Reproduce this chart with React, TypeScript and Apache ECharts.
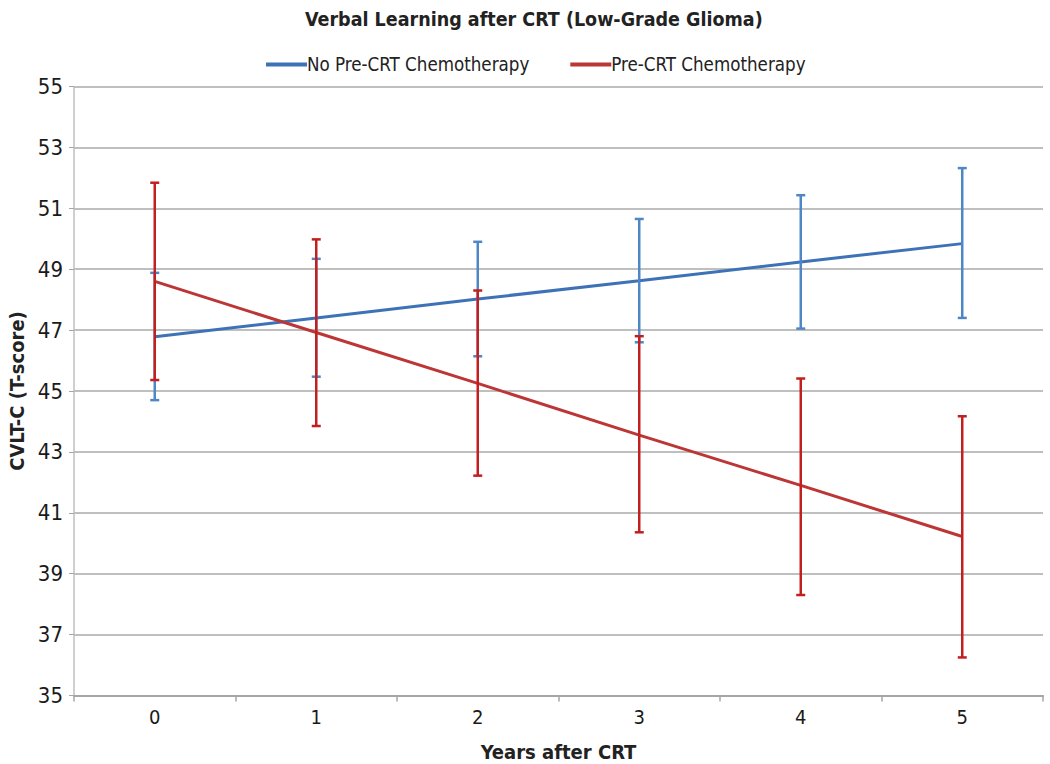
import React, { useEffect, useRef } from "react";
import * as echarts from "echarts";

const years = ["0", "1", "2", "3", "4", "5"];
const noChemoMean = [46.78, 47.4, 48.02, 48.62, 49.24, 49.84];
const noChemoLow = [44.7, 45.47, 46.14, 46.6, 47.05, 47.4];
const noChemoHigh = [48.88, 49.34, 49.9, 50.65, 51.43, 52.32];
const chemoMean = [48.6, 46.92, 45.25, 43.55, 41.9, 40.22];
const chemoLow = [45.36, 43.85, 42.22, 40.36, 38.3, 36.25];
const chemoHigh = [51.84, 49.98, 48.3, 46.8, 45.41, 44.17];
const seriesNames = ["No Pre-CRT Chemotherapy", "Pre-CRT Chemotherapy"];

const FONT = "'Liberation Sans Narrow', 'DejaVu Sans Condensed', sans-serif";
const BLUE = "#3E72B7";
const BLUE_ERR = "#4F86C6";
const RED = "#BC3636";
const RED_ERR = "#C21F1F";

function errorSeries(name: string, low: number[], high: number[], color: string, z: number) {
  return {
    type: "custom",
    name,
    z,
    data: years.map((_, i) => [i, low[i], high[i]]),
    encode: { x: 0, y: [1, 2] },
    renderItem: (params: any, api: any) => {
      const x = api.value(0);
      const lo = api.coord([x, api.value(1)]);
      const hi = api.coord([x, api.value(2)]);
      const half = 4.5;
      const style = { stroke: color, lineWidth: 2.5 };
      return {
        type: "group",
        children: [
          { type: "line", shape: { x1: lo[0], y1: lo[1], x2: hi[0], y2: hi[1] }, style },
          { type: "line", shape: { x1: lo[0] - half, y1: lo[1], x2: lo[0] + half, y2: lo[1] }, style },
          { type: "line", shape: { x1: hi[0] - half, y1: hi[1], x2: hi[0] + half, y2: hi[1] }, style },
        ],
      };
    },
  };
}

export default function App() {
  const ref = useRef<HTMLDivElement>(null);
  useEffect(() => {
    if (!ref.current) return;
    const chart = echarts.init(ref.current, null, { renderer: "svg" });
    chart.setOption({
      animation: false,
      backgroundColor: "#ffffff",
      textStyle: { fontFamily: FONT },
      title: {
        text: "Verbal Learning after CRT (Low-Grade Glioma)",
        left: 300,
        top: 4,
        textStyle: { fontFamily: FONT, fontSize: 19.5, fontWeight: "bold", color: "#222" },
      },
      legend: {
        data: seriesNames,
        top: 50,
        left: 261,
        icon: "rect",
        itemWidth: 41,
        itemHeight: 4,
        itemGap: 41,
        textStyle: { fontFamily: FONT, fontSize: 18.6, color: "#222", padding: [0, 0, 0, -5] },
      },
      grid: {
        left: 74,
        right: 7,
        top: 86.5,
        height: 609,
        containLabel: false,
        outerBoundsMode: "none",
      },
      xAxis: {
        type: "category",
        data: years,
        boundaryGap: true,
        name: "Years after CRT",
        nameLocation: "middle",
        nameGap: 46,
        nameTextStyle: { fontFamily: FONT, fontSize: 20, fontWeight: "bold", color: "#222" },
        axisLine: { lineStyle: { color: "#A6A6A6", width: 2 } },
        axisTick: { show: true, length: 6, lineStyle: { color: "#A6A6A6", width: 1.5 } },
        axisLabel: { fontFamily: FONT, fontSize: 20, color: "#1a1a1a", margin: 11 },
      },
      yAxis: {
        type: "value",
        min: 35,
        max: 55,
        interval: 2,
        name: "CVLT-C (T-score)",
        nameLocation: "middle",
        nameGap: 47,
        nameTextStyle: { fontFamily: FONT, fontSize: 20, fontWeight: "bold", color: "#222" },
        axisLine: { show: true, lineStyle: { color: "#BFBFBF", width: 1.5 } },
        axisTick: { show: true, length: 5, inside: false, lineStyle: { color: "#A6A6A6" } },
        axisLabel: { fontFamily: FONT, fontSize: 22, color: "#1a1a1a", margin: 11 },
        splitLine: { lineStyle: { color: "#BFBFBF", width: 2 } },
      },
      series: [
        {
          type: "line",
          name: seriesNames[0],
          data: noChemoMean,
          symbol: "none",
          z: 2,
          itemStyle: { color: BLUE },
          lineStyle: { color: BLUE, width: 3 },
        },
        errorSeries("noChemoErr", noChemoLow, noChemoHigh, BLUE_ERR, 3),
        {
          type: "line",
          name: seriesNames[1],
          data: chemoMean,
          symbol: "none",
          z: 4,
          itemStyle: { color: RED },
          lineStyle: { color: RED, width: 3 },
        },
        errorSeries("chemoErr", chemoLow, chemoHigh, RED_ERR, 5),
      ],
    });
    return () => chart.dispose();
  }, []);
  return (
    <div
      ref={ref}
      style={{ position: "fixed", left: 0, top: 0, width: 1050, height: 764, background: "#fff" }}
    />
  );
}
